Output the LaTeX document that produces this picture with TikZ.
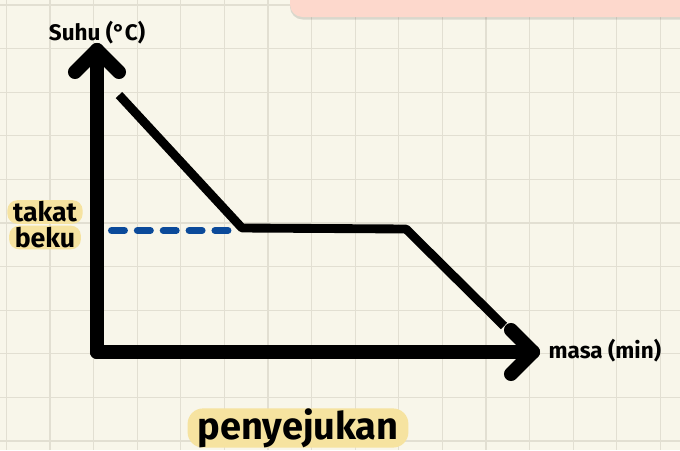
\documentclass[tikz,border=0pt]{standalone}
\usepackage{fontspec}
\setmainfont{Fira Sans}
\usetikzlibrary{positioning}
\definecolor{paper}{HTML}{F8F6EA}
\definecolor{gridline}{HTML}{E2DFD2}
\definecolor{pinkbox}{HTML}{FDD8CC}
\definecolor{marker}{HTML}{F6E3A0}
\definecolor{dashblue}{HTML}{0B4A9A}
\tikzset{
  axis/.style={line width=10pt, line cap=round, line join=round},
  curve/.style={line width=6.3pt, line join=round},
  frozen/.style={dashblue, line width=5pt, line cap=round, dash pattern=on 9.2pt off 9.2pt},
  label/.style={font=\bfseries\fontsize{16}{16}\selectfont, inner sep=1pt},
  marked/.style={label, fill=marker, rounded corners=7pt, inner xsep=4pt, inner ysep=1pt}
}
\begin{document}
\begin{tikzpicture}[x=0.025cm, y=-0.025cm]
			\pgfmathsetmacro{\GridStep}{43.6}
			\pgfmathsetmacro{\TipArm}{22}
			\useasboundingbox (0,0) rectangle (680,450);
			\fill[paper] (0,0) rectangle (680,450);
			\begin{scope}
				\clip (0,0) rectangle (680,450);
				\foreach \i in {0,...,15} {
					\draw[gridline, line width=0.9pt] (6.4+\i*\GridStep,0) -- (6.4+\i*\GridStep,450);
				}
				\foreach \j in {0,...,10} {
					\draw[gridline, line width=0.9pt] (0,5+\j*\GridStep) -- (680,5+\j*\GridStep);
				}
				\fill[black, opacity=0.12, rounded corners=9pt] (290,-20) rectangle (700,19.5);
				\fill[pinkbox, rounded corners=9pt] (290,-20) rectangle (700,17);
			\end{scope}
			
			\coordinate (Origin) at (97,352);
			\coordinate (YTip) at (97,50);
			\coordinate (XTip) at (533,352);
			
			% axes
			\draw[axis] (Origin) -- (YTip);
			\draw[axis] (YTip) ++(-\TipArm,\TipArm) -- (YTip) -- ++(\TipArm,\TipArm);
			\draw[axis] (Origin) -- (XTip);
			\draw[axis] (XTip) ++(-\TipArm,-\TipArm) -- (XTip) -- ++(-\TipArm,\TipArm);
			
			% cooling curve
			\coordinate (Start) at (119,95);
			\coordinate (FreezeStart) at (242,228);
			\coordinate (FreezeEnd) at (406,229);
			\coordinate (End) at (504,326);
			\draw[curve] (Start) -- (FreezeStart) -- (FreezeEnd) -- (End);
			
			\coordinate (DashStart) at (111.5,230.5);
			\coordinate (DashEnd) at (230,230.5);
			\draw[frozen] (DashStart) -- (DashEnd);
			
			\node[label] (ylabel) at (97,33) {Suhu (°C)};
			\node[label, anchor=west] (xlabel) at (547,351) {masa (min)};
			\node[marked, font=\bfseries\fontsize{19}{19}\selectfont] (takat) at (45,212) {takat};
			\node[marked, font=\bfseries\fontsize{19}{19}\selectfont, below=1pt of takat] (beku) {beku};
			\node[marked, font=\bfseries\fontsize{27}{27}\selectfont, inner xsep=7pt, inner ysep=0pt, rounded corners=11pt] (title) at (298,428) {penyejukan};
		\end{tikzpicture}
\end{document}
